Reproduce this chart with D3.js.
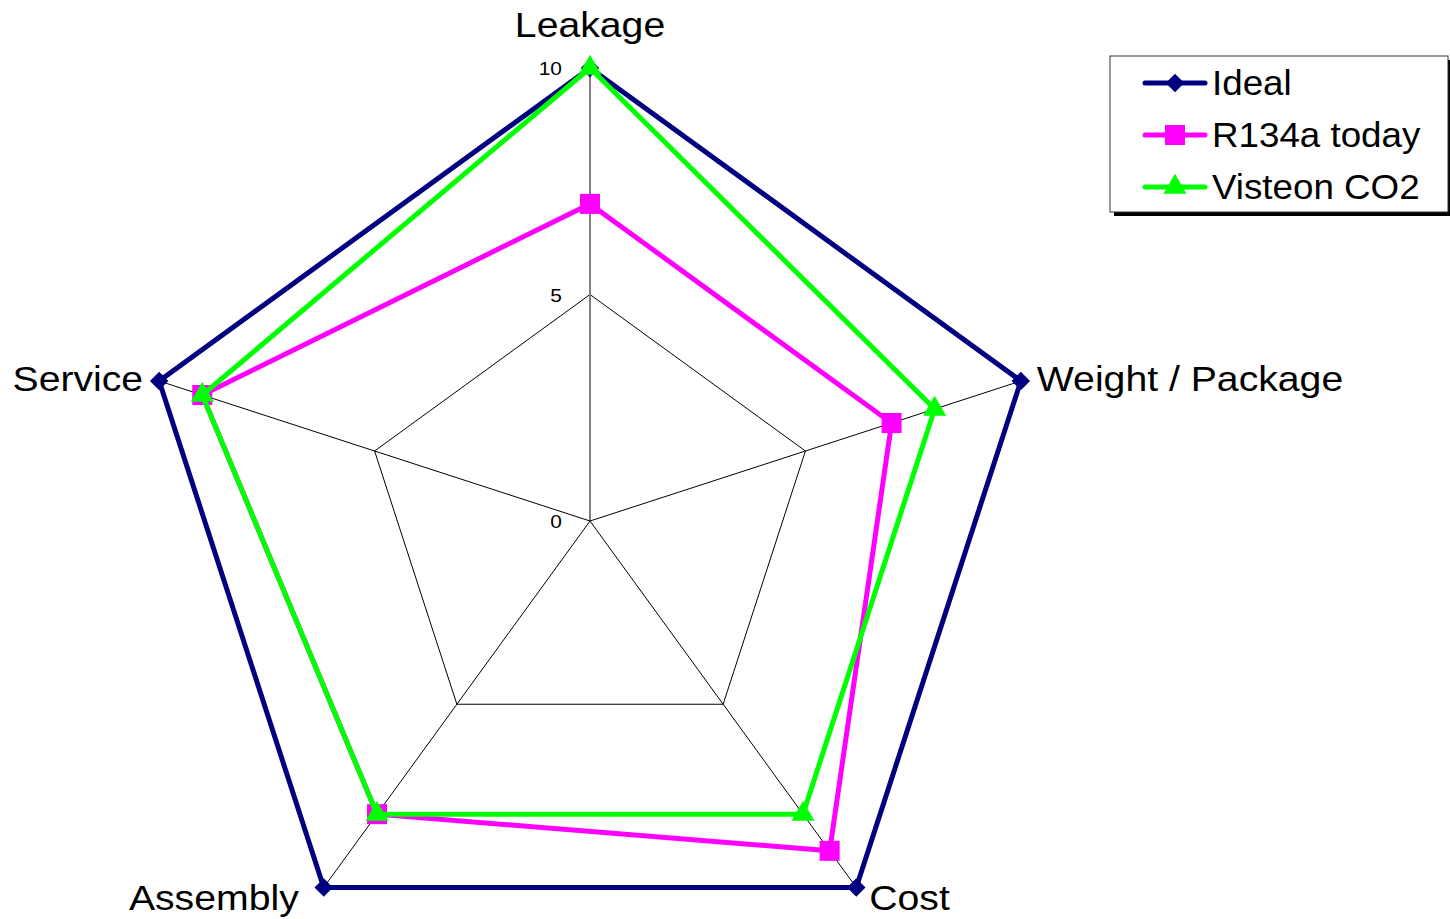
<!DOCTYPE html>
<html>
<head>
<meta charset="utf-8">
<script src="https://cdn.jsdelivr.net/npm/d3@7"></script>
<style>
  html, body { margin: 0; padding: 0; background: #fff; }
  svg { display: block; font-family: "Liberation Sans", Arial, sans-serif; }
</style>
</head>
<body>
<svg id="chart" width="1450" height="919"></svg>
<script>
// Radar axes and series scores (0–10)
const categories = ["Leakage", "Weight / Package", "Cost", "Assembly", "Service"];
const ideal      = [10, 10, 10, 10, 10];
const r134aToday = [7, 7, 9, 8, 9];
const visteonCO2 = [10, 8, 8, 8, 9];
const seriesNames = ["Ideal", "R134a today", "Visteon CO2"];
const tickValues = [0, 5, 10];

const series = [
  { name: seriesNames[0], values: ideal,      color: "#000080", marker: "diamond" },
  { name: seriesNames[1], values: r134aToday, color: "#FF00FF", marker: "square" },
  { name: seriesNames[2], values: visteonCO2, color: "#00FF00", marker: "triangle" }
];

const svg = d3.select("#chart");
const cx = 590, cy = 521, R = 453;

const r = d3.scaleLinear().domain([0, 10]).range([0, R]);
const angle = d3.scaleLinear().domain([0, categories.length]).range([0, 2 * Math.PI]);

function pt(i, v) {
  const a = angle(i);
  return [cx + r(v) * Math.sin(a), cy - r(v) * Math.cos(a)];
}

// Text with a slight horizontal stretch
function wideText(parent, x, y, str, size, anchor, sx) {
  parent.append("g")
    .attr("transform", `translate(${x},${y}) scale(${sx},1)`)
    .append("text")
    .attr("text-anchor", anchor)
    .attr("font-size", size)
    .text(str);
}

// Grid pentagons at 5 and 10
const grid = svg.append("g");
tickValues.filter(t => t > 0).forEach(t => {
  grid.append("path")
    .attr("d", d3.line()(categories.map((c, i) => pt(i, t))) + "Z")
    .attr("fill", "none").attr("stroke", "#000").attr("stroke-width", 1);
});
// Spokes
categories.forEach((c, i) => {
  const [x, y] = pt(i, 10);
  grid.append("line")
    .attr("x1", cx).attr("y1", cy).attr("x2", x).attr("y2", y)
    .attr("stroke", i === 0 ? "#808080" : "#000")
    .attr("stroke-width", i === 0 ? 2 : 1);
});

// Tick labels along the first axis
tickValues.forEach(t => {
  const [x, y] = pt(0, t);
  wideText(svg, x - 28, y + 7, t, 19, "end", 1.1);
});

// Category labels
const labelPos = [
  { dx: 0, dy: -31, anchor: "middle" },
  { dx: 16, dy: 10, anchor: "start" },
  { dx: 13, dy: 23, anchor: "start" },
  { dx: -25, dy: 23, anchor: "end" },
  { dx: -16, dy: 10, anchor: "end" }
];
categories.forEach((c, i) => {
  const [x, y] = pt(i, 10);
  wideText(svg, x + labelPos[i].dx, y + labelPos[i].dy, c, 35, labelPos[i].anchor, 1.12);
});

const symbolFor = {
  diamond: d3.symbol().type(d3.symbolSquare).size(170),
  square: d3.symbol().type(d3.symbolSquare).size(400),
  triangle: d3.symbol().type(d3.symbolTriangle).size(230)
};
function drawMarker(g, s, x, y) {
  g.append("path")
    .attr("d", symbolFor[s.marker]())
    .attr("transform", `translate(${x},${y})` + (s.marker === "diamond" ? " rotate(45)" : ""))
    .attr("fill", s.color);
}

// Series polygons
series.forEach(s => {
  const g = svg.append("g");
  const pts = s.values.map((v, i) => pt(i, v));
  g.append("path")
    .attr("d", d3.line()(pts) + "Z")
    .attr("fill", "none")
    .attr("stroke", s.color)
    .attr("stroke-width", 5)
    .attr("stroke-linejoin", "miter");
  pts.forEach(([x, y]) => drawMarker(g, s, x, y));
});

// Legend
const lg = svg.append("g");
const lx = 1110, ly = 56, lw = 338, lh = 156;
lg.append("rect").attr("x", lx + 4).attr("y", ly + 4).attr("width", lw + 4).attr("height", lh).attr("fill", "#000");
lg.append("rect").attr("x", lx).attr("y", ly).attr("width", lw).attr("height", lh)
  .attr("fill", "#fff").attr("stroke", "#333").attr("stroke-width", 1);
series.forEach((s, k) => {
  const y = ly + 27 + k * 52;
  lg.append("line").attr("x1", lx + 35).attr("x2", lx + 95).attr("y1", y).attr("y2", y)
    .attr("stroke", s.color).attr("stroke-width", 5).attr("stroke-linecap", "round");
  drawMarker(lg, s, lx + 65, y);
  wideText(lg, lx + 102, y + 12, s.name, 35, "start", 1.05);
});
</script>
</body>
</html>
